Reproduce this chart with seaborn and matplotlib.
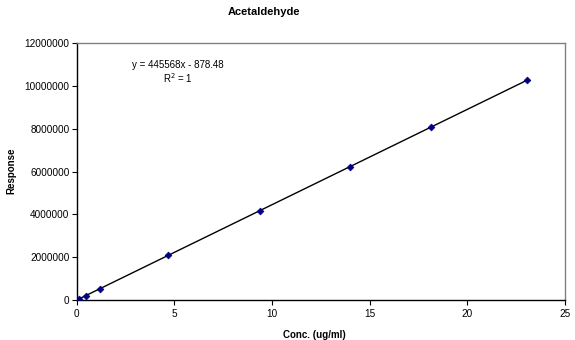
import numpy as np
import pandas as pd
import matplotlib
matplotlib.use("Agg")
import matplotlib.pyplot as plt
import seaborn as sns

conc = [0.12, 0.46, 1.18, 4.69, 9.36, 14.0, 18.15, 23.05]
response = [52000, 204000, 525000, 2090000, 4170000, 6240000, 8090000, 10270000]
title = "Acetaldehyde"
xlabel = "Conc. (ug/ml)"
ylabel = "Response"
eq_text = "y = 445568x - 878.48\nR$^2$ = 1"
xticks = [0, 5, 10, 15, 20, 25]
yticks = [0, 2000000, 4000000, 6000000, 8000000, 10000000, 12000000]

sns.set_style("white")
plt.rcParams['font.family'] = ['Liberation Sans', 'DejaVu Sans']
plt.rcParams['text.color'] = 'black'
plt.rcParams['axes.labelcolor'] = 'black'
plt.rcParams['xtick.color'] = 'black'
plt.rcParams['ytick.color'] = 'black'

df = pd.DataFrame({"conc": conc, "response": response})
slope, intercept = np.polyfit(df["conc"], df["response"], 1)
fit = pd.DataFrame({"conc": [min(conc), max(conc)]})
fit["response"] = slope * fit["conc"] + intercept

fig = plt.figure(figsize=(5.75, 3.4), dpi=100)
ax = fig.add_axes([0.1334, 0.1176, 0.8492, 0.755])

sns.lineplot(data=fit, x="conc", y="response", color="black", lw=1.0, ax=ax)
sns.scatterplot(data=df, x="conc", y="response", marker="D", s=12, color="#000080",
                edgecolor="#000080", linewidth=0.5, ax=ax, zorder=3)

ax.set_xlim(0, 25)
ax.set_ylim(0, 12000000)
ax.set_xticks(xticks)
ax.set_yticks(yticks)
ax.set_xticklabels([str(t) for t in xticks], fontsize=7.2)
ax.set_yticklabels([str(t) for t in yticks], fontsize=7.2)
ax.tick_params(axis="both", direction="out", length=3.6, width=0.8, color="black", pad=1.5,
               bottom=True, left=True)
ax.tick_params(axis="x", pad=3)
for s in ["left", "bottom"]:
    ax.spines[s].set_color("black")
    ax.spines[s].set_linewidth(1.0)
for s in ["top", "right"]:
    ax.spines[s].set_color("#808080")
    ax.spines[s].set_linewidth(1.0)

ax.set_xlabel(xlabel, fontsize=7, fontweight="bold")
ax.set_ylabel(ylabel, fontsize=7, fontweight="bold")
ax.xaxis.set_label_coords(0.487, -0.117)
ax.yaxis.set_label_coords(-0.123, 0.504)
ax.text(0.208, 0.886, eq_text, transform=ax.transAxes, ha="center", va="center",
        fontsize=7, linespacing=1.15)
fig.text(264 / 575, 1 - 12 / 340, title, ha="center", va="center", fontsize=8, fontweight="bold")

fig.savefig("out.png", dpi=100)
